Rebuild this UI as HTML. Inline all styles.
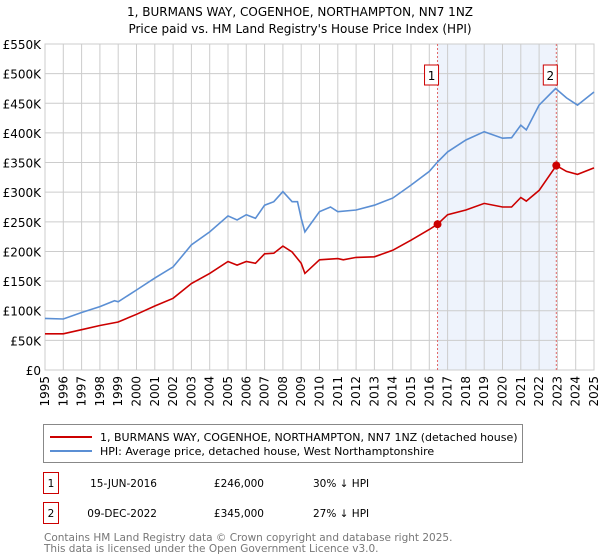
<!DOCTYPE html>
<html><head><meta charset="utf-8"><style>
body{margin:0;background:#fff;font-family:"DejaVu Sans","Liberation Sans",sans-serif;}
#wrap{position:relative;width:600px;height:560px;overflow:hidden}
</style></head><body>
<div id="wrap">
<svg id="chart" width="600" height="560" style="position:absolute;left:0;top:0"></svg>
</div>
<script>
const hpiYears=[1995,1996,1997,1998,1998.8,1999,2000,2001,2002,2003,2004,2005,2005.5,2006,2006.5,2007,2007.5,2008,2008.5,2008.8,2009,2009.2,2010,2010.6,2011,2012,2013,2014,2015,2016,2016.45,2017,2018,2019,2020,2020.5,2021,2021.3,2022,2022.9,2023.5,2024.1,2025];
const hpiValues=[87,86,97,107,117,115,135,155,174,211,233,260,253,262,256,278,284,301,284,284,256,233,267,275,267,270,278,290,312,335,351,368,388,402,391,392,413,405,447,475,459,447,469];
const paidYears=[1995,1996,1997,1998,1999,2000,2001,2002,2003,2004,2005,2005.5,2006,2006.5,2007,2007.5,2008,2008.5,2009,2009.2,2010,2011,2011.3,2012,2013,2014,2015,2016,2016.45,2017,2018,2019,2020,2020.5,2021,2021.3,2022,2022.94,2023.5,2024.1,2025];
const paidValues=[61,61,68,75,81,94,108,121,146,163,183,177,183,180,196,197,209,199,180,163,186,188,186,190,191,202,219,237,246,262,270,281,275,275,291,285,303,345,335,330,341];
const saleYears=[2016.45,2022.94];
const saleValues=[246,345];
const saleLabels=["1","2"];
const yTicks=[0,50,100,150,200,250,300,350,400,450,500,550];
const yTickLabels=["£0","£50K","£100K","£150K","£200K","£250K","£300K","£350K","£400K","£450K","£500K","£550K"];
const xTicks=[1995,1996,1997,1998,1999,2000,2001,2002,2003,2004,2005,2006,2007,2008,2009,2010,2011,2012,2013,2014,2015,2016,2017,2018,2019,2020,2021,2022,2023,2024,2025];

const X0=45,X1=594,Y0=370,Y1=44;
const xs=y=>X0+(y-1995)/30*(X1-X0);
const ys=v=>Y0-v/550*(Y0-Y1);
const svg=document.getElementById('chart');
const NS='http://www.w3.org/2000/svg';
function mk(tag,attrs){const e=document.createElementNS(NS,tag);for(const k in attrs)e.setAttribute(k,attrs[k]);svg.appendChild(e);return e;}
function txt(x,y,s,size,anchor,fill){const e=mk('text',{x:x,y:y,'font-size':size,'text-anchor':anchor||'start',fill:fill||'#000','font-family':'DejaVu Sans, Liberation Sans, sans-serif'});e.textContent=s;return e;}

let e;
e=txt(300,16,"1, BURMANS WAY, COGENHOE, NORTHAMPTON, NN7 1NZ",12,'middle');


e=txt(300,33,"Price paid vs. HM Land Registry's House Price Index (HPI)",12,'middle');



e=mk('rect',{x:xs(saleYears[0]),y:Y1,width:xs(saleYears[1])-xs(saleYears[0]),height:Y0-Y1,fill:'#eef3fc'});


yTicks.forEach((v,i)=>{
 e=mk('line',{x1:X0,x2:X1,y1:ys(v),y2:ys(v),stroke:'#cccccc','stroke-width':1});
 
 
 e=txt(X0-4,ys(v)+5,yTickLabels[i],12,'end');
 
 
});
xTicks.forEach(y=>{
 e=mk('line',{x1:xs(y),x2:xs(y),y1:Y1,y2:Y0,stroke:'#cccccc','stroke-width':1});
 
 
 e=txt(0,0,String(y),12,'end');
 e.setAttribute('transform','translate('+(xs(y)+4)+','+(Y0+6)+') rotate(-90)');
 
 
});
e=mk('rect',{x:X0,y:Y1,width:X1-X0,height:Y0-Y1,fill:'none',stroke:'#cccccc'});


saleYears.forEach((y,i)=>{
 e=mk('line',{x1:xs(y),x2:xs(y),y1:Y1,y2:Y0,stroke:'#e06666','stroke-width':1,'stroke-dasharray':'2,2'});
 
 
 e=mk('rect',{x:xs(y)-13,y:65,width:14,height:20,fill:'#fff',stroke:'#cc0000'});
 
 
 e=txt(xs(y)-6,80,saleLabels[i],12,'middle');
 
 
});
function path(xa,va){return xa.map((y,i)=>(i?'L':'M')+xs(y).toFixed(1)+','+ys(va[i]).toFixed(1)).join(' ');}
e=mk('path',{d:path(hpiYears,hpiValues),fill:'none',stroke:'#5b8fd4','stroke-width':1.6});


e=mk('path',{d:path(paidYears,paidValues),fill:'none',stroke:'#cc0000','stroke-width':1.6});


saleYears.forEach((y,i)=>{
 e=mk('circle',{cx:xs(y),cy:ys(saleValues[i]),r:4,fill:'#cc0000'});
 
 
});
e=mk('rect',{x:43.5,y:424.5,width:479,height:38,fill:'#fff',stroke:'#888'});


e=mk('line',{x1:50,x2:92,y1:437,y2:437,stroke:'#cc0000','stroke-width':2});


e=txt(100,441,"1, BURMANS WAY, COGENHOE, NORTHAMPTON, NN7 1NZ (detached house)",11);


e=mk('line',{x1:50,x2:92,y1:451,y2:451,stroke:'#5b8fd4','stroke-width':2});


e=txt(100,455,"HPI: Average price, detached house, West Northamptonshire",11);


const rows=[["1","15-JUN-2016","£246,000","30% ↓ HPI",482],["2","09-DEC-2022","£345,000","27% ↓ HPI",512]];
rows.forEach(r=>{
 e=mk('rect',{x:43.5,y:r[4]-9.5,width:15,height:21,fill:'#fff',stroke:'#cc0000'});
 
 
 e=txt(51,r[4]+5,r[0],10.5,'middle');
 
 
 e=txt(157,r[4]+5,r[1],10.5,'end');
 
 
 e=txt(264,r[4]+5,r[2],10.5,'end');
 
 
 e=txt(313,r[4]+5,r[3],10.5);
 
 
});
e=txt(44,541,"Contains HM Land Registry data © Crown copyright and database right 2025.",10.5,'start','#777');


e=txt(44,552,"This data is licensed under the Open Government Licence v3.0.",10.5,'start','#777');


</script>
</body></html>
